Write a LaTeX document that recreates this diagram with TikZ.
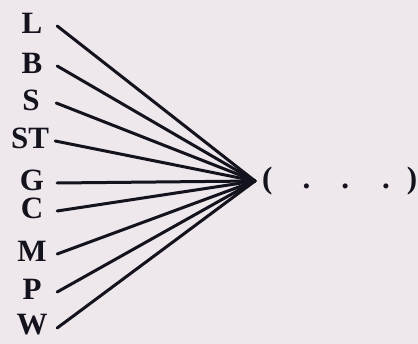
\documentclass[tikz,border=0pt]{standalone}
\usepackage{fontspec}
\setmainfont{Liberation Serif}
\definecolor{paper}{RGB}{238,231,235}
\definecolor{ink}{RGB}{20,18,28}
\begin{document}
\begin{tikzpicture}[x=1pt,y=-1pt,
  lab/.style={font=\fontsize{31}{33}\selectfont\bfseries, text=ink, inner sep=0pt, minimum width=50pt, minimum height=24pt, align=center},
  spoke/.style={draw=ink, line width=3pt, line cap=round}]
\fill[paper] (0,0) rectangle (418,344);
\useasboundingbox (0,0) rectangle (418,344);
\coordinate (hub) at (255,181);
\node[lab] (L)  at (32,23)  {L};
\node[lab] (B)  at (32,63)  {B};
\node[lab] (S)  at (31,100) {S};
\node[lab] (ST) at (30,138) {ST};
\node[lab] (G)  at (32,180) {G};
\node[lab] (C)  at (32,208) {C};
\node[lab] (M)  at (32,251) {M};
\node[lab] (P)  at (32,289) {P};
\node[lab] (W)  at (32,325) {W};
\foreach \n in {L,B,S,ST,G,C,M,P,W}{\draw[spoke] ([yshift=-3pt]\n.east) -- (hub);}
\node[font=\fontsize{31}{33}\selectfont\bfseries, text=ink, inner sep=0pt, anchor=west] (tuple) at (262,181)
  {(\hspace{30pt}.\hspace{31pt}.\hspace{33pt}.\hspace{17pt})};
\end{tikzpicture}
\end{document}
